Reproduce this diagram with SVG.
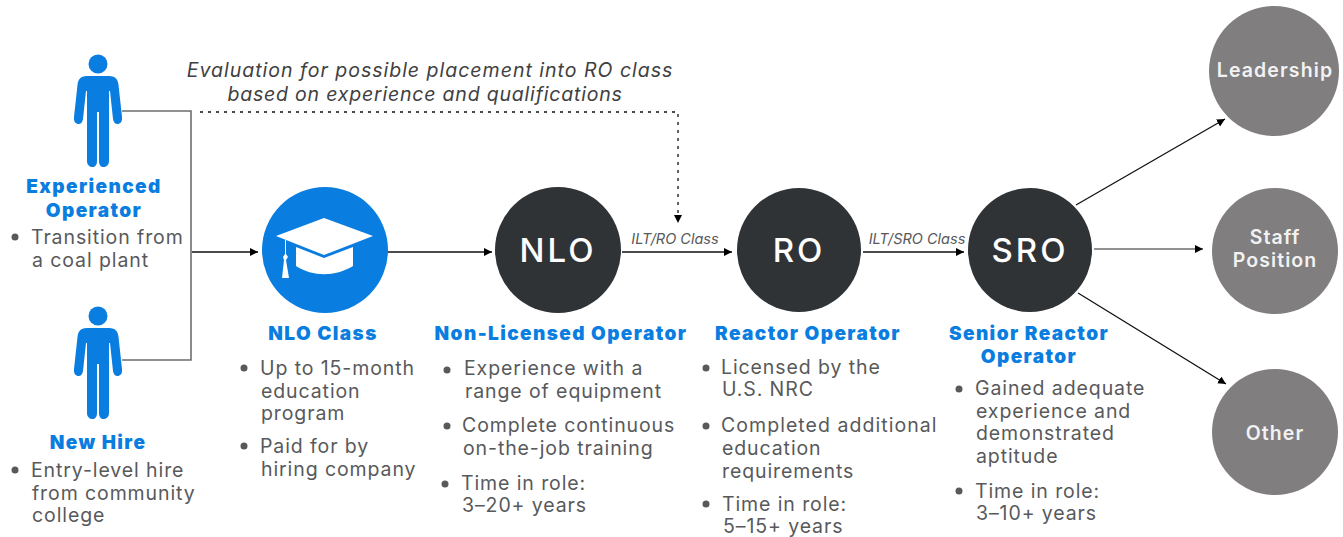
<svg xmlns="http://www.w3.org/2000/svg" width="1343" height="537" viewBox="0 0 1343 537">
<style>
text{font-family:"Inter","Liberation Sans",sans-serif}
.b{font-size:19.500px;fill:#58595b;letter-spacing:.9px}
.h{font-size:19px;font-weight:900;fill:#0a7de0;text-anchor:middle;letter-spacing:1.400px}
.c{font-size:33px;font-weight:500;fill:#fff;text-anchor:middle;letter-spacing:3px}
.g{font-size:19.500px;font-weight:600;fill:#f2f2f2;text-anchor:middle;letter-spacing:1.100px}
.i{font-size:14.500px;font-style:italic;fill:#58595b;text-anchor:middle}
.e{font-size:19.500px;font-style:italic;fill:#404041;text-anchor:middle;letter-spacing:1px}
.d{fill:#58595b}
.l{fill:none;stroke:#111;stroke-width:1.3}
.gl{fill:none;stroke:#6d6e70;stroke-width:1.6}
.p{fill:#0a7de0}
</style>
<defs>
<marker id="a" markerWidth="9" markerHeight="9" refX="8" refY="4" orient="auto" markerUnits="userSpaceOnUse"><path d="M0 0L8 4L0 8Z" fill="#000"/></marker>
<g id="person"><circle cx="0" cy="-47" r="9.500"/><path d="M-11-35H11C18-35 20-31 20.500-26L24 6C24.500 11 22 13 19.500 13C17 13 15.500 11 15 8L12-20H11V50C11 54 8 56 5.500 56C3 56 1 54 1 50V1H-1V50C-1 54-3 56-5.500 56C-8 56-11 54-11 50V-20H-12L-15 8C-15.500 11-17 13-19.500 13C-22 13-24.500 11-24 6L-20.500-26C-20-31-18-35-11-35Z"/></g>
</defs>
<g id="connectors">
<path class="gl" d="M122 111H191V360H122"/>
<path class="l" d="M192 252H258" marker-end="url(#a)"/>
<path class="l" d="M388 252H492" marker-end="url(#a)"/>
<path d="M200 112H678V223" fill="none" stroke="#111" stroke-width="1.3" stroke-dasharray="3 5" marker-end="url(#a)"/>
<path class="l" d="M622 252H732" marker-end="url(#a)"/>
<path class="l" d="M863 252H964" marker-end="url(#a)"/>
<path class="l" d="M1076 205L1225 119" marker-end="url(#a)"/>
<path class="gl" d="M1094 249H1203" marker-end="url(#a)"/>
<path class="l" d="M1078 293L1226 384" marker-end="url(#a)"/>
</g>
<g id="eval"><text class="e" x="430" y="77">Evaluation for possible placement into RO class</text><text class="e" x="425" y="101" style="letter-spacing:.8px">based on experience and qualifications</text></g>
<g id="ilt-ro"><text class="i" x="675" y="244">ILT/RO Class</text></g>
<g id="ilt-sro"><text class="i" x="917" y="244">ILT/SRO Class</text></g>
<g id="experienced"><use href="#person" class="p" x="98" y="111"/>
<text class="h" x="94" y="193">Experienced</text><text class="h" x="94" y="217">Operator</text>
<circle class="d" cx="15" cy="237" r="3.500"/><text class="b" x="31" y="244">Transition from</text><text class="b" x="32" y="267">a coal plant</text></g>
<g id="newhire"><use href="#person" class="p" x="98" y="363"/>
<text class="h" x="98" y="449">New Hire</text>
<circle class="d" cx="15" cy="470" r="3.500"/><text class="b" x="31" y="477">Entry-level hire</text><text class="b" x="32" y="500">from community</text><text class="b" x="32" y="522">college</text></g>
<g id="nlo-class"><circle cx="325" cy="250" r="63" fill="#0a7de0"/>
<path d="M276 236L324 218L373 236L324 255Z" fill="#fff"/><path d="M296 247L324 258L353 247V266C335 277 313 277 296 266Z" fill="#fff"/><path d="M285 240H286V254L288 257L286 260L289 278H282L284 260L283 257L285 254Z" fill="#fff"/>
<text class="h" x="323" y="340">NLO Class</text>
<circle class="d" cx="244" cy="368" r="3.500"/><text class="b" x="260" y="375">Up to 15-month</text><text class="b" x="261" y="398">education</text><text class="b" x="261" y="420">program</text>
<circle class="d" cx="244" cy="446" r="3.500"/><text class="b" x="260" y="453">Paid for by</text><text class="b" x="261" y="476">hiring company</text></g>
<g id="nlo"><circle cx="558" cy="250" r="63" fill="#303336"/><text class="c" x="558" y="262">NLO</text>
<text class="h" x="561" y="340">Non-Licensed Operator</text>
<circle class="d" cx="447" cy="370" r="3.500"/><text class="b" x="464" y="375">Experience with a</text><text class="b" x="465" y="398">range of equipment</text>
<circle class="d" cx="447" cy="426" r="3.500"/><text class="b" x="462" y="432">Complete continuous</text><text class="b" x="463" y="455">on-the-job training</text>
<circle class="d" cx="445" cy="484" r="3.500"/><text class="b" x="461" y="490">Time in role:</text><text class="b" x="462" y="512">3–20+ years</text></g>
<g id="ro"><circle cx="799" cy="250" r="62" fill="#303336"/><text class="c" x="799" y="262">RO</text>
<text class="h" x="808" y="340">Reactor Operator</text>
<circle class="d" cx="706" cy="368" r="3.500"/><text class="b" x="721" y="374">Licensed by the</text><text class="b" x="722" y="396">U.S. NRC</text>
<circle class="d" cx="706" cy="426" r="3.500"/><text class="b" x="721" y="432" style="letter-spacing:1.050px">Completed additional</text><text class="b" x="722" y="455">education</text><text class="b" x="722" y="478">requirements</text>
<circle class="d" cx="706" cy="504" r="3.500"/><text class="b" x="722" y="511">Time in role:</text><text class="b" x="723" y="533">5–15+ years</text></g>
<g id="sro"><circle cx="1030" cy="250" r="62" fill="#303336"/><text class="c" x="1030" y="262">SRO</text>
<text class="h" x="1029" y="340">Senior Reactor</text><text class="h" x="1029" y="363">Operator</text>
<circle class="d" cx="959" cy="389" r="3.500"/><text class="b" x="975" y="395">Gained adequate</text><text class="b" x="976" y="418">experience and</text><text class="b" x="976" y="440">demonstrated</text><text class="b" x="976" y="463">aptitude</text>
<circle class="d" cx="959" cy="491" r="3.500"/><text class="b" x="975" y="498">Time in role:</text><text class="b" x="976" y="520">3–10+ years</text></g>
<g id="leadership"><circle cx="1274" cy="71" r="65" fill="#807e7f"/><text class="g" x="1275" y="77">Leadership</text></g>
<g id="staff"><circle cx="1275" cy="251" r="63" fill="#807e7f"/><text class="g" x="1275" y="244">Staff</text><text class="g" x="1275" y="267">Position</text></g>
<g id="other"><circle cx="1275" cy="432" r="63" fill="#807e7f"/><text class="g" x="1275" y="440">Other</text></g>
</svg>
